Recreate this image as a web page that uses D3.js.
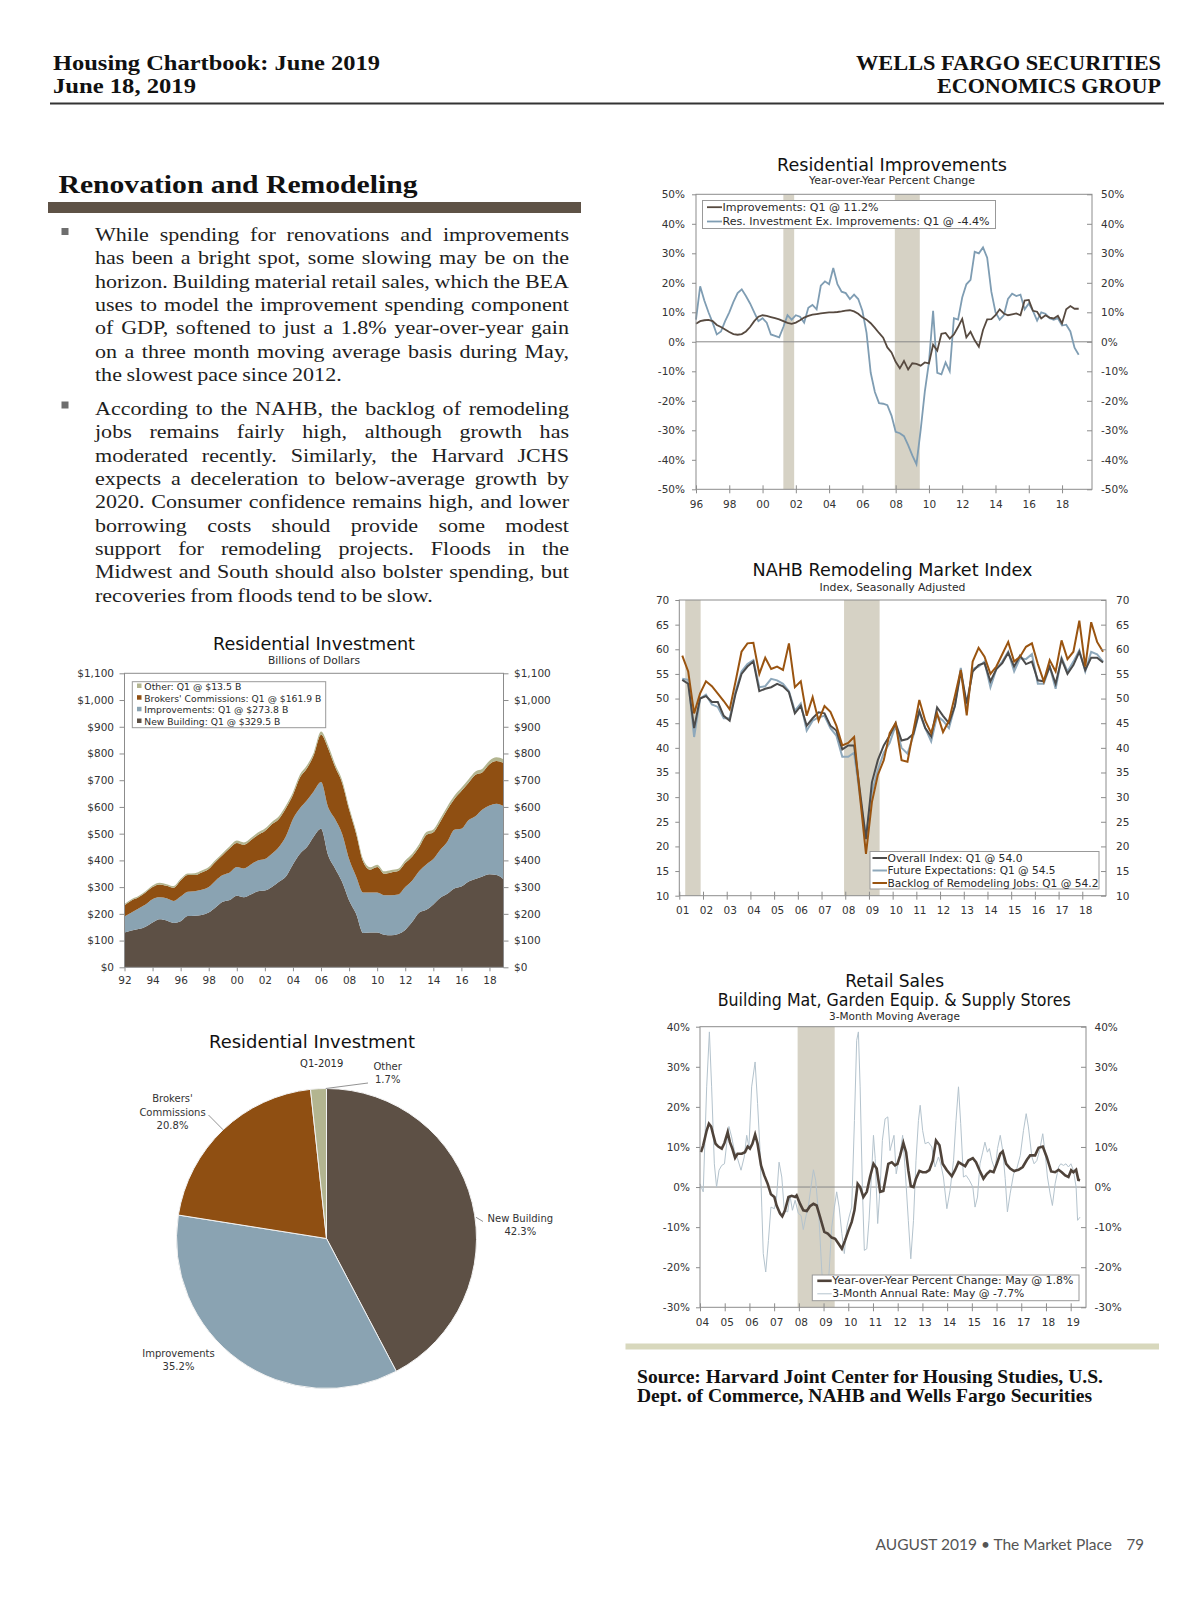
<!DOCTYPE html>
<html><head><meta charset="utf-8">
<script src="https://cdn.jsdelivr.net/npm/d3@7"></script>
<style>body{margin:0;background:#fff}svg{display:block}</style>
</head><body>
<svg id="page" width="1200" height="1606"></svg>
<script>
// ---------------- DATA ----------------
// Residential Improvements, quarterly 1996Q1–2019Q1, YoY %
const impQuarterStart = 1996;
const improvementsYoY = [
 6.1,7.0,7.3,7.4, 7.0,5.7,5.0,4.2, 3.3,2.6,2.4,2.6, 3.5,5.0,7.0,8.5,
 9.0,8.8,8.4,8.0, 7.6,7.0,6.4,6.1, 6.5,7.3,8.2,8.8, 9.2,9.4,9.6,9.8,
 10.0,10.0,10.1,10.3, 10.6,10.7,10.3,9.5, 8.3,7.5,6.3,4.7, 3.0,1.4,-1.9,-3.6,
 -6.8,-9.0,-6.5,-9.4, -7.3,-7.5,-8.1,-7.0, -7.3,-1.0,-3.0,2.7, 3.0,1.1,2.5,5.0,
 7.8,1.5,3.4,0.5, -1.7,4.0,7.6,7.7, 9.0,11.0,9.6,9.0, 9.3,9.6,9.0,14.0,
 14.2,10.5,10.2,7.9, 9.0,8.2,7.9,8.8, 6.2,11.0,12.1,11.2, 11.2];
const resInvExImpYoY = [
 7.5,18.8,14,10, 6.5,2.5,3.5,7, 10,13.5,16.5,17.8, 15.5,13,10,7,
 8,6.5,2.5,2, 1.5,5,9,7.5, 9,8.5,6.5,11.5, 12.5,11,19,20.5,
 19.5,25,19.5,17, 16.5,14.5,16,14.5, 10.5,3,-10.5,-17, -20.8,-21,-21.5,-25,
 -30.5,-31,-32,-35, -38.5,-41.5,-30,-17, -7,10.5,-10.5,-11, -7,-10,8,7.5,
 15,19.5,21,30.5, 30,32,28.5,17, 10,7.5,9,14.5, 16.3,15.5,16,11,
 13,10.5,7.2,10, 9.5,8,7.5,8, 5.5,5.8,3.5,-2, -4.4];
const impLegend = ["Improvements: Q1 @ 11.2%","Res. Investment Ex. Improvements: Q1 @ -4.4%"];

// NAHB Remodeling Market Index, quarterly 2001Q1–2018Q4
const nahbStart = 2001;
const nahbOverall = [
 53.8,53,44,50, 50.5,49.3,49.3,46.5, 45.5,51,55,56.5, 57.5,51.5,52,52.3,
 53,52.5,51.3,47, 48.5,44.5,46,47.2, 47,44.5,43.5,39.7, 40.5,40.5,31,21.5,
 33,37.5,40.5,42.5, 45,41.5,41.8,42.8, 47.5,44,42.3,48.2, 46.5,45,48.5,55.5,
 49,55.5,56.8,57.2, 53.5,56,57.2,59.3, 56.5,58.7,57,57.5, 53.7,53.5,56.5,53,
 58,55,56.8,59.5, 55.8,58.3,58.3,57.3];
const nahbFuture = [
 54,53.8,42.2,50, 50.8,48.8,48.3,46, 46,51.5,55.5,57, 57.8,52.3,52.5,54,
 53.7,53,51.5,47.5, 49,43.5,45.5,46.2, 46.5,44,42.5,38.2, 38.2,39,30,22,
 31,35.5,39,41, 44.5,40,38.8,42.5, 47.2,44,41.3,46.5, 45.5,44,48.5,56.2,
 48,56,56.5,57.5, 52.3,56,57.5,59.5, 55.5,58.2,58,59, 53,53,56.5,52,
 58.3,55.5,57.5,59.8, 55.5,59.5,59,57.5];
const nahbBacklog = [
 58.7,55.5,47,51, 53.5,52.5,51,49.5, 47.8,53.5,59.5,61.2, 61.3,55,58.3,56,
 56.5,55.8,61.2,52.3, 53.5,46.5,50.3,45.5, 48.5,47.3,44.5,40.5, 41,42.2,30,18.5,
 29,34.5,37.5,43, 45,37.5,37.2,43.5, 49.7,45.5,43,47, 43.2,45.5,50.5,55.8,
 46.6,57.5,60.3,58.5, 55,56.5,59,61.5, 57.5,58.5,60.5,61.2, 57,53.5,57.8,55.5,
 61.8,58,59.5,65.8, 56.5,65.5,61.5,59.5];
const nahbLegend = ["Overall Index: Q1 @ 54.0","Future Expectations: Q1 @ 54.5","Backlog of Remodeling Jobs: Q1 @ 54.2"];

// Residential Investment, $B, semiannual 1992–2019Q1
const riYears = [1992,1992.5,1993,1993.5,1994,1994.5,1995,1995.5,1996,1996.5,1997,1997.5,1998,1998.5,1999,1999.5,
 2000,2000.5,2001,2001.5,2002,2002.5,2003,2003.5,2004,2004.5,2005,2005.5,2006,2006.5,2007,2007.5,
 2008,2008.5,2009,2009.5,2010,2010.5,2011,2011.5,2012,2012.5,2013,2013.5,2014,2014.5,2015,2015.5,
 2016,2016.5,2017,2017.5,2018,2018.5,2019];
const newBuilding = [130,138,143,152,168,180,175,166,172,192,193,196,205,225,245,252,
 268,262,272,285,287,300,320,340,385,425,450,490,518,420,370,320,
 250,200,128,130,130,122,120,125,140,170,205,215,235,260,275,295,
 302,320,330,340,348,345,329.5];
const improvementsB = [60,67,77,83,87,82,83,82,93,91,92,94,95,100,100,103,
 107,108,113,115,118,125,130,150,170,170,175,170,175,180,185,180,
 155,140,152,150,150,148,150,147,160,155,155,170,170,180,195,220,
 216,230,235,250,257,267,273.8];
const brokersB = [42,45,42,45,45,48,47,50,60,62,60,65,68,70,75,90,
 90,88,90,95,105,110,105,105,90,115,120,135,177,220,195,190,
 185,160,115,85,95,80,85,88,90,90,90,110,100,105,120,115,
 142,140,155,140,155,160,161.9];
const otherB = [5,5,5,5,6,6,6,6,6,6,7,7,7,7,8,8,
 9,9,9,9,9,9,10,10,10,11,11,11,12,12,11,11,
 10,10,9,9,9,9,9,9,10,10,11,11,11,12,12,12,
 12,13,13,13,13,13.5,13.5];
const riLegend = ["Other: Q1 @ $13.5 B","Brokers' Commissions: Q1 @ $161.9 B","Improvements: Q1 @ $273.8 B","New Building: Q1 @ $329.5 B"];

// Pie: Q1-2019 shares
const pieLabels = ["New Building","Improvements","Brokers' Commissions","Other"];
const pieShares = [42.3, 35.2, 20.8, 1.7];

// Retail sales, building materials (date as decimal year, value %)
const yoyT = [2004.04,2004.13,2004.27,2004.36,2004.45,2004.54,2004.63,2004.74,2004.88,2004.99,2005.12,2005.21,2005.31,2005.42,2005.52,2005.69,2005.82,2005.93,2006.02,2006.12,2006.23,2006.33,2006.47,2006.60,2006.74,2006.87,2007.01,2007.10,2007.24,2007.33,2007.44,2007.58,2007.71,2007.85,2007.91,2008.05,2008.18,2008.32,2008.45,2008.59,2008.72,2008.86,2009.03,2009.17,2009.33,2009.47,2009.60,2009.74,2009.87,2010.01,2010.14,2010.25,2010.38,2010.48,2010.61,2010.75,2010.88,2011.02,2011.15,2011.29,2011.42,2011.62,2011.76,2011.89,2011.99,2012.10,2012.23,2012.34,2012.43,2012.53,2012.64,2012.74,2012.88,2013.01,2013.15,2013.28,2013.42,2013.55,2013.69,2013.82,2013.99,2014.19,2014.32,2014.46,2014.59,2014.73,2014.86,2015.04,2015.17,2015.31,2015.47,2015.61,2015.74,2015.88,2016.01,2016.15,2016.25,2016.39,2016.55,2016.71,2016.89,2017.06,2017.23,2017.36,2017.56,2017.70,2017.87,2018.03,2018.21,2018.37,2018.51,2018.64,2018.78,2018.91,2019.02,2019.11,2019.22,2019.31,2019.38];
const yoyV = [8.7,10.4,14.1,15.8,15.1,12.9,10.8,10.1,9.6,11.0,13.7,11.2,9.6,7.3,8.3,8.3,8.7,10.1,9.6,10.8,13.1,10.8,5.4,2.9,0.8,-1.8,-2.5,-4.6,-6.6,-7.3,-5.8,-2.5,-2.2,-2.5,-2.1,-4.2,-5.8,-6.0,-4.8,-4.2,-4.6,-7.5,-11.2,-11.6,-12.6,-12.9,-14.1,-15.4,-13.3,-10.8,-8.7,-5.8,0.8,0,-2.5,-1.2,2.5,5.8,4.6,-1.2,-1.0,5.8,6.2,5.4,5.8,7.9,11.0,8.7,4.2,0.2,0,2.1,4.0,3.7,3.7,4.2,6.6,11.6,10.4,5.8,4.2,2.7,4.2,6.2,5.7,5.2,6.6,7.2,6.2,4.2,2.1,3.3,4.0,3.7,5.8,8.3,8.9,5.8,4.6,4.0,4.3,5.0,6.8,7.9,7.9,9.8,10.1,7.5,3.9,3.7,4.3,3.7,2.9,2.5,4.2,3.7,4.3,1.8,1.7];
const annT = [2004.00,2004.13,2004.27,2004.38,2004.47,2004.58,2004.67,2004.77,2004.88,2004.99,2005.08,2005.17,2005.28,2005.39,2005.52,2005.66,2005.79,2005.89,2005.98,2006.09,2006.23,2006.33,2006.43,2006.50,2006.56,2006.66,2006.77,2006.87,2007.01,2007.10,2007.20,2007.31,2007.41,2007.55,2007.64,2007.74,2007.85,2007.98,2008.09,2008.18,2008.28,2008.39,2008.49,2008.59,2008.68,2008.82,2008.93,2009.03,2009.13,2009.22,2009.33,2009.44,2009.53,2009.63,2009.74,2009.84,2009.94,2010.03,2010.14,2010.25,2010.34,2010.41,2010.48,2010.57,2010.65,2010.75,2010.84,2010.95,2011.02,2011.09,2011.19,2011.29,2011.38,2011.49,2011.60,2011.69,2011.85,2011.94,2011.99,2012.10,2012.20,2012.30,2012.43,2012.53,2012.64,2012.74,2012.84,2012.91,2013.01,2013.11,2013.24,2013.38,2013.51,2013.65,2013.74,2013.85,2013.99,2014.12,2014.26,2014.36,2014.46,2014.55,2014.66,2014.77,2014.90,2015.04,2015.13,2015.23,2015.33,2015.44,2015.53,2015.63,2015.71,2015.81,2015.94,2016.04,2016.15,2016.25,2016.35,2016.44,2016.55,2016.69,2016.82,2016.96,2017.09,2017.20,2017.29,2017.43,2017.52,2017.63,2017.74,2017.87,2017.97,2018.06,2018.17,2018.26,2018.37,2018.51,2018.60,2018.71,2018.81,2018.91,2019.01,2019.11,2019.22,2019.28,2019.38];
const annV = [0.8,-1.2,25,38.7,25,5.8,0,4.2,5.4,5.8,10.8,15.1,12.5,9.1,7.1,4.2,7.5,12.9,10.0,25,31.2,20.8,9.1,-5.0,-16.6,-21.2,-13.3,-5.0,-5.4,-2.5,6.2,2.5,-5.8,-6.2,-2.1,-5.8,-3.3,-6.6,-7.1,-10.6,-7.5,-4.6,0,4.3,1.7,-8.3,-21.2,-28,-26.6,-21.6,-10,-5,-1.2,-5,-11.6,-16.6,-10,-7.5,-5,16.6,36.6,38.7,25,0,-15.8,-15.4,-8.3,4.2,12.9,7.1,-9.1,0,11.6,17,17.5,9.1,12.9,3.3,5,8.3,12.9,4.6,-8.3,-17.9,-8.3,6.6,16.6,20.4,14.1,10.8,11.2,10,5,7.5,5.8,2.5,-5.4,-0.8,6.6,16.6,25,15.8,2.5,2.9,1.7,0,-5,-2.5,5.8,8.7,11.2,8.7,9.6,6.6,4.2,9.6,12.9,9.1,2.1,-6.2,-1.7,3.3,4.6,7.9,14.1,18.3,15,7.5,5.8,6.6,9.1,13.3,8.3,2.5,-1.7,-4.6,0.8,5,5.8,5.4,5.8,5,5.8,4.2,0,-8.3,-7.5];
const retailLegend = ["Year-over-Year Percent Change: May @ 1.8%","3-Month Annual Rate: May @ -7.7%"];

// Recessions (decimal years)
const recessions = [[2001.25,2001.9],[2007.95,2009.45]];

// Body text lines
const para1 = ["While spending for renovations and improvements","has been a bright spot, some slowing may be on the","horizon. Building material retail sales, which the BEA","uses to model the improvement spending component","of GDP, softened to just a 1.8% year-over-year gain","on a three month moving average basis during May,","the slowest pace since 2012."];
const para2 = ["According to the NAHB, the backlog of remodeling","jobs remains fairly high, although growth has","moderated recently. Similarly, the Harvard JCHS","expects a deceleration to below-average growth by","2020. Consumer confidence remains high, and lower","borrowing costs should provide some modest","support for remodeling projects. Floods in the","Midwest and South should also bolster spending, but","recoveries from floods tend to be slow."];

// ---------------- DRAWING ----------------
const SANS = "'DejaVu Sans', Verdana, sans-serif";
const SERIF = "'Liberation Serif', 'Times New Roman', serif";
const C = {axis:'#8c8c8c', text:'#2a2a2a', rec:'#d6d2c5', dark:'#574a40', blue:'#7f9db3',
  nOver:'#4b4b4b', nFut:'#8ea8bb', nBack:'#9a5410', newB:'#5d5045', imp:'#8aa3b2', brk:'#8f4f12', oth:'#b3b590'};
const svg = d3.select('#page');
svg.append('rect').attr('width',1200).attr('height',1606).attr('fill','#fff');

function txt(g, s, x, y, o={}) {
  const t = g.append('text').attr('x',x).attr('y',y).text(s)
    .style('font-family', o.family||SANS).style('font-size',(o.size||11)+'px')
    .attr('fill', o.fill||C.text).attr('text-anchor', o.anchor||'start');
  if (o.weight) t.style('font-weight', o.weight);
  if (o.len) t.attr('textLength', o.len).attr('lengthAdjust','spacingAndGlyphs');
  return t;
}
function styleAxis(sel){
  sel.attr('font-family',null).attr('font-size',null);
  sel.select('.domain').remove();
  sel.selectAll('line').attr('stroke',C.axis);
  sel.selectAll('text').attr('fill','#333').style('font-family',SANS).style('font-size','10.5px');
}
function frame(g,x,y){
  g.append('rect').attr('x',x.range()[0]).attr('y',y.range()[1]).attr('width',x.range()[1]-x.range()[0])
   .attr('height',y.range()[0]-y.range()[1]).attr('fill','none').attr('stroke',C.axis).attr('stroke-width',1);
}
function recess(g,x,y){
  const [d0,d1]=x.domain();
  recessions.forEach(r=>{
    const a=Math.max(r[0],d0), b=Math.min(r[1],d1);
    if (b<=a) return;
    g.append('rect').attr('x',x(a)).attr('y',y.range()[1]).attr('width',x(b)-x(a))
      .attr('height',y.range()[0]-y.range()[1]).attr('fill',C.rec);
  });
}
const yy = d => d3.format('02d')(Math.round(d)%100);

// Header
const hdr = svg.append('g');
txt(hdr,"Housing Chartbook: June 2019",53,70,{family:SERIF,size:22,weight:'bold',len:327,fill:'#111'});
txt(hdr,"June 18, 2019",53,92.5,{family:SERIF,size:22,weight:'bold',len:143,fill:'#111'});
txt(hdr,"WELLS FARGO SECURITIES",856,70,{family:SERIF,size:22,weight:'bold',len:305,fill:'#111'});
txt(hdr,"ECONOMICS GROUP",937,92.5,{family:SERIF,size:22,weight:'bold',len:224,fill:'#111'});
hdr.append('rect').attr('x',50).attr('y',102.5).attr('width',1114).attr('height',2).attr('fill','#333');

// Section title and bar
txt(svg,"Renovation and Remodeling",58.5,192.5,{family:SERIF,size:25,weight:'bold',len:359,fill:'#111'});
svg.append('rect').attr('x',48).attr('y',202).attr('width',533).attr('height',11).attr('fill','#5e5246');

// Body text, justified (glyphs widened slightly to mimic the original serif face)
const body = svg.append('g');
const FS = 19.5;
const meas = body.append('text').style('font-family',SERIF).style('font-size',FS+'px').attr('visibility','hidden');
function para(lines, y0, bulletY){
  body.append('rect').attr('x',61.5).attr('y',bulletY).attr('width',7).attr('height',7).attr('fill','#6e6e6e');
  const X0=95, X1=569, LH=23.33, SP=4.6, SMAX=1.13;
  lines.forEach((line,i)=>{
    const y=y0+i*LH;
    const words=line.split(' ');
    const w=words.map(s=>{meas.text(s);return meas.node().getComputedTextLength();});
    const sum=d3.sum(w);
    const last = i===lines.length-1;
    let s = Math.min(SMAX,(X1-X0-(words.length-1)*SP)/sum);
    let gap = last ? SP : (X1-X0-s*sum)/(words.length-1);
    let x=X0;
    words.forEach((word,k)=>{
      body.append('text').attr('x',x).attr('y',y).text(word)
        .style('font-family',SERIF).style('font-size',FS+'px').attr('fill','#1e1e1e')
        .attr('textLength',w[k]*s).attr('lengthAdjust','spacingAndGlyphs');
      x+=w[k]*s+gap;
    });
  });
}
para(para1,241,228);
para(para2,415,401.5);
meas.remove();

// -------- Residential Improvements --------
(function(){
  const g=svg.append('g');
  const x=d3.scaleLinear().domain([1996,2019.8]).range([696,1092]);
  const y=d3.scaleLinear().domain([-50,50]).range([489.3,194.3]);
  recess(g,x,y);
  g.append('line').attr('x1',x.range()[0]).attr('x2',x.range()[1]).attr('y1',y(0)).attr('y2',y(0)).attr('stroke','#888');
  const t=i=>impQuarterStart+i*0.25;
  const line=d3.line().x((d,i)=>x(t(i))).y(d=>y(d));
  g.append('path').datum(resInvExImpYoY).attr('d',line).attr('fill','none').attr('stroke',C.blue).attr('stroke-width',1.8);
  g.append('path').datum(improvementsYoY).attr('d',line).attr('fill','none').attr('stroke',C.dark).attr('stroke-width',1.8);
  frame(g,x,y);
  const yt=d3.range(-50,51,10), fmt=d=>d+'%';
  g.append('g').attr('transform',`translate(${x.range()[0]},0)`).call(d3.axisLeft(y).tickValues(yt).tickFormat(fmt).tickSize(4).tickPadding(7)).call(styleAxis);
  g.append('g').attr('transform',`translate(${x.range()[1]},0)`).call(d3.axisRight(y).tickValues(yt).tickFormat(fmt).tickSize(-5).tickPadding(9)).call(styleAxis);
  const xt=d3.range(1996,2019,2);
  g.append('g').attr('transform',`translate(0,${y.range()[0]})`).call(d3.axisBottom(x).tickValues(xt).tickFormat(yy).tickSize(4).tickPadding(7.5)).call(styleAxis);
  g.append('g').attr('transform',`translate(0,${y.range()[0]})`).call(d3.axisBottom(x).tickValues(xt).tickFormat('').tickSize(-4)).call(styleAxis);
  txt(g,"Residential Improvements",892,171,{size:17.5,anchor:'middle',len:230,fill:'#111'});
  txt(g,"Year-over-Year Percent Change",892,184,{size:10,anchor:'middle',len:166});
  const lg=g.append('g');
  lg.append('rect').attr('x',702.5).attr('y',200.5).attr('width',293).attr('height',28).attr('fill','#fff').attr('stroke','#999');
  [[C.dark,210.7],[C.blue,225]].forEach((c,i)=>{
    lg.append('line').attr('x1',707).attr('x2',722).attr('y1',c[1]-3.5).attr('y2',c[1]-3.5).attr('stroke',c[0]).attr('stroke-width',1.8);
    txt(lg,impLegend[i],722.5,c[1],{size:10,len:i?267:156});
  });
})();

// -------- NAHB --------
(function(){
  const g=svg.append('g');
  const x=d3.scaleLinear().domain([2001,2019]).range([679.3,1106]);
  const y=d3.scaleLinear().domain([10,70]).range([895.7,600]);
  recess(g,x,y);
  const t=i=>nahbStart+i*0.25+0.125;
  const line=d3.line().x((d,i)=>x(t(i))).y(d=>y(d));
  [[nahbFuture,C.nFut],[nahbOverall,C.nOver],[nahbBacklog,C.nBack]].forEach(s=>{
    g.append('path').datum(s[0]).attr('d',line).attr('fill','none').attr('stroke',s[1]).attr('stroke-width',2);
  });
  frame(g,x,y);
  const yt=d3.range(10,71,5);
  g.append('g').attr('transform',`translate(${x.range()[0]},0)`).call(d3.axisLeft(y).tickValues(yt).tickSize(4).tickPadding(6)).call(styleAxis);
  g.append('g').attr('transform',`translate(${x.range()[1]},0)`).call(d3.axisRight(y).tickValues(yt).tickSize(-5).tickPadding(10)).call(styleAxis);
  const xt=d3.range(2001,2019,1);
  const xa=g.append('g').attr('transform',`translate(0,${y.range()[0]})`).call(d3.axisBottom(x).tickValues(xt).tickFormat(yy).tickSize(4).tickPadding(7)).call(styleAxis);
  xa.selectAll('text').attr('dx',3);
  g.append('g').attr('transform',`translate(0,${y.range()[0]})`).call(d3.axisBottom(x).tickValues(xt).tickFormat('').tickSize(-4)).call(styleAxis);
  txt(g,"NAHB Remodeling Market Index",892.5,575.7,{size:17.5,anchor:'middle',len:280,fill:'#111'});
  txt(g,"Index, Seasonally Adjusted",892.5,590.5,{size:10,anchor:'middle',len:146});
  const lg=g.append('g');
  lg.append('rect').attr('x',870).attr('y',851.5).attr('width',229).attr('height',37.5).attr('fill','#fff').attr('stroke','#999');
  [[C.nOver,861.5,135],[C.nFut,874,168],[C.nBack,886.5,211]].forEach((c,i)=>{
    lg.append('line').attr('x1',872.5).attr('x2',887).attr('y1',c[1]-3.5).attr('y2',c[1]-3.5).attr('stroke',c[0]).attr('stroke-width',2);
    txt(lg,nahbLegend[i],887.5,c[1],{size:10,len:c[2]});
  });
})();

// -------- Residential Investment (stacked area) --------
(function(){
  const g=svg.append('g');
  const x=d3.scaleLinear().domain([1992,2019]).range([124.5,503.5]);
  const y=d3.scaleLinear().domain([0,1100]).range([967.3,673.3]);
  const rows=riYears.map((t,i)=>({t,newBuilding:newBuilding[i],improvements:improvementsB[i],brokers:brokersB[i],other:otherB[i]}));
  const keys=['newBuilding','improvements','brokers','other'];
  const cols={newBuilding:C.newB,improvements:C.imp,brokers:C.brk,other:C.oth};
  const stack=d3.stack().keys(keys)(rows);
  const area=d3.area().curve(d3.curveMonotoneX).x(d=>x(d.data.t)).y0(d=>y(d[0])).y1(d=>y(d[1]));
  g.selectAll('path.ar').data(stack).join('path').attr('class','ar').attr('d',area).attr('fill',d=>cols[d.key]);
  frame(g,x,y);
  const yt=d3.range(0,1101,100), fmt=d=>'$'+d3.format(',')(d);
  g.append('g').attr('transform',`translate(${x.range()[0]},0)`).call(d3.axisLeft(y).tickValues(yt).tickFormat(fmt).tickSize(5).tickPadding(5.5)).call(styleAxis);
  g.append('g').attr('transform',`translate(${x.range()[1]},0)`).call(d3.axisRight(y).tickValues(yt).tickFormat(fmt).tickSize(5).tickPadding(5.5)).call(styleAxis);
  g.append('g').attr('transform',`translate(0,${y.range()[0]})`).call(d3.axisBottom(x).tickValues(d3.range(1992,2019,2)).tickFormat(yy).tickSize(4).tickPadding(5)).call(styleAxis);
  txt(g,"Residential Investment",314,650,{size:17.5,anchor:'middle',len:202,fill:'#111'});
  txt(g,"Billions of Dollars",314,664,{size:10,anchor:'middle',len:92});
  const lg=g.append('g');
  lg.append('rect').attr('x',132.3).attr('y',681.7).attr('width',193.4).attr('height',46).attr('fill','#fff').attr('stroke','#999');
  [[C.oth,690,97],[C.brk,701.7,177],[C.imp,713.3,144],[C.newB,725,136]].forEach((c,i)=>{
    lg.append('rect').attr('x',137).attr('y',c[1]-6.5).attr('width',4.5).attr('height',4.5).attr('fill',c[0]);
    txt(lg,riLegend[i],144.3,c[1],{size:9,len:c[2]});
  });
})();

// -------- Pie --------
(function(){
  const g=svg.append('g');
  const cx=326.5, cy=1238.5, R=150;
  const pie=d3.pie().sort(null).value(d=>d)(pieShares);
  const arc=d3.arc().innerRadius(0).outerRadius(R);
  const cols=[C.newB,C.imp,C.brk,C.oth];
  g.append('g').attr('transform',`translate(${cx},${cy})`).selectAll('path').data(pie).join('path')
    .attr('d',arc).attr('fill',(d,i)=>cols[i]).attr('stroke','#f2f2f2').attr('stroke-width',1);
  txt(g,"Residential Investment",312,1048,{size:17.5,anchor:'middle',len:206,fill:'#111'});
  txt(g,"Q1-2019",321.7,1066.5,{size:10,anchor:'middle'});
  const lab=(lines,xc,y0)=>lines.forEach((s,i)=>txt(g,s,xc,y0+i*13.3,{size:10,anchor:'middle',fill:'#333'}));
  const pct=d=>d3.format('.1f')(d)+'%';
  lab(["Other",pct(pieShares[3])],387.7,1070);
  lab(["Brokers'","Commissions",pct(pieShares[2])],172.5,1102.3);
  lab(["New Building",pct(pieShares[0])],520.3,1222);
  lab(["Improvements",pct(pieShares[1])],178.5,1356.7);
  const ang=(d)=>(d.startAngle+d.endAngle)/2;
  const onArc=(a,r)=>[cx+r*Math.sin(a),cy-r*Math.cos(a)];
  const lead=(p,q)=>g.append('path').attr('d',d3.line()([p,q])).attr('stroke','#777').attr('fill','none').attr('stroke-width',0.8);
  lead(onArc(pie[3].endAngle-0.005,R),[368,1083]);
  lead(onArc(ang(pie[2]),R),[208.5,1115]);
  lead(onArc(1.43,R+1),[483,1221.5]);
})();

// -------- Retail Sales --------
(function(){
  const g=svg.append('g');
  const x=d3.scaleLinear().domain([2004,2019.62]).range([700,1086]);
  const y=d3.scaleLinear().domain([-30,40]).range([1307.3,1026.7]);
  recess(g,x,y);
  g.append('line').attr('x1',x.range()[0]).attr('x2',x.range()[1]).attr('y1',y(0)).attr('y2',y(0)).attr('stroke','#888');
  const line=(T)=>d3.line().x((d,i)=>x(T[i])).y(d=>y(d));
  g.append('path').datum(annV).attr('d',line(annT)).attr('fill','none').attr('stroke','#b4c3cd').attr('stroke-width',1);
  g.append('path').datum(yoyV).attr('d',line(yoyT)).attr('fill','none').attr('stroke','#4f433a').attr('stroke-width',2.6);
  frame(g,x,y);
  const yt=d3.range(-30,41,10), fmt=d=>d+'%';
  g.append('g').attr('transform',`translate(${x.range()[0]},0)`).call(d3.axisLeft(y).tickValues(yt).tickFormat(fmt).tickSize(4).tickPadding(6)).call(styleAxis);
  g.append('g').attr('transform',`translate(${x.range()[1]},0)`).call(d3.axisRight(y).tickValues(yt).tickFormat(fmt).tickSize(-5).tickPadding(8.5)).call(styleAxis);
  const xt=d3.range(2004,2020,1);
  const xa=g.append('g').attr('transform',`translate(0,${y.range()[0]})`).call(d3.axisBottom(x).tickValues(xt).tickFormat(yy).tickSize(4).tickPadding(7)).call(styleAxis);
  xa.selectAll('text').attr('dx',2);
  g.append('g').attr('transform',`translate(0,${y.range()[0]})`).call(d3.axisBottom(x).tickValues(xt).tickFormat('').tickSize(-4)).call(styleAxis);
  txt(g,"Retail Sales",894.7,986.7,{size:17.5,anchor:'middle',len:99,fill:'#111'});
  txt(g,"Building Mat, Garden Equip. & Supply Stores",894.2,1006,{size:17.5,anchor:'middle',len:353,fill:'#111'});
  txt(g,"3-Month Moving Average",894.5,1020,{size:10,anchor:'middle',len:131});
  const lg=g.append('g');
  lg.append('rect').attr('x',812.3).attr('y',1275).attr('width',266.7).attr('height',25.7).attr('fill','#fff').attr('stroke','#999');
  [['#4f433a',1284.3,241,2.6],['#b4c3cd',1297.3,192,1]].forEach((c,i)=>{
    lg.append('line').attr('x1',817.3).attr('x2',831.7).attr('y1',c[1]-3.5).attr('y2',c[1]-3.5).attr('stroke',c[0]).attr('stroke-width',c[3]);
    txt(lg,retailLegend[i],832.3,c[1],{size:10,len:c[2]});
  });
})();

// Bottom bar, source, footer
svg.append('rect').attr('x',625.5).attr('y',1343.5).attr('width',533.5).attr('height',6).attr('fill','#d8d8bd');
txt(svg,"Source: Harvard Joint Center for Housing Studies, U.S.",637,1383.3,{family:SERIF,size:18,weight:'bold',len:466,fill:'#111'});
txt(svg,"Dept. of Commerce, NAHB and Wells Fargo Securities",637,1402,{family:SERIF,size:18,weight:'bold',len:455,fill:'#111'});
txt(svg,"AUGUST 2019 \u2022 The Market Place",875.5,1550,{family:"Lato, sans-serif",size:15,fill:'#555',len:236.5});
txt(svg,"79",1144,1550,{family:"Lato, sans-serif",size:15,fill:'#555',anchor:'end'});
</script>
</body></html>
